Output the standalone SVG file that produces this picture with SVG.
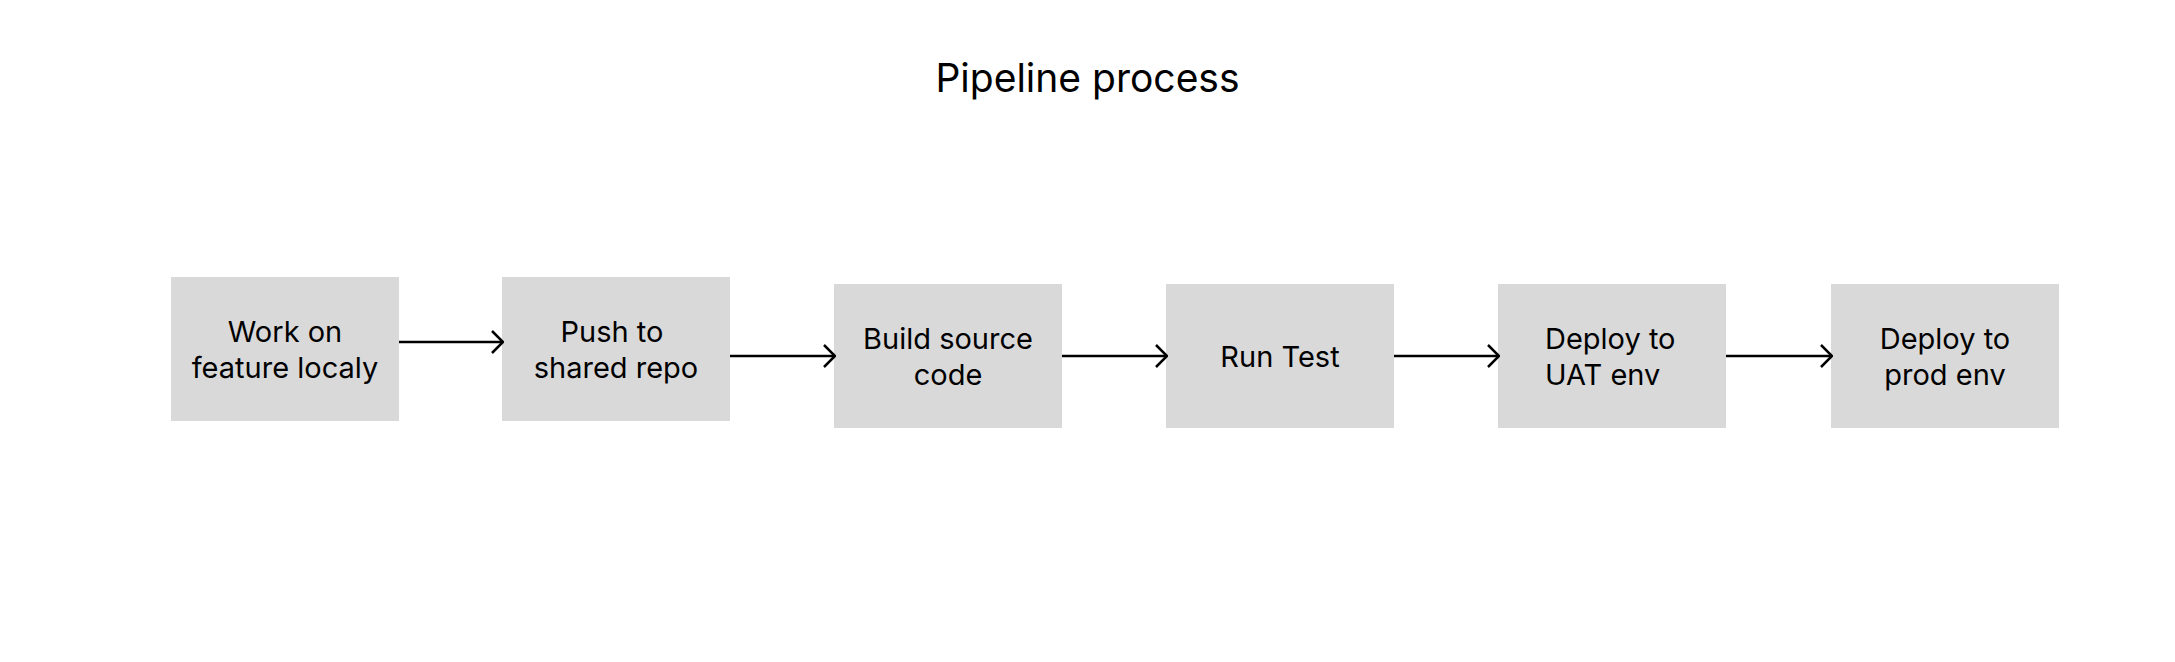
<svg xmlns="http://www.w3.org/2000/svg" width="2175" height="662" viewBox="0 0 2175 662">
<style>
.box{fill:#d9d9d9}
.t{font-family:Inter,"Noto Sans",sans-serif;font-size:29px;fill:#000;text-anchor:middle}
.l{text-anchor:start}
.title{font-family:Inter,"Noto Sans",sans-serif;font-size:39px;fill:#000;text-anchor:middle}
.c{stroke:#000;stroke-width:2.5;fill:none}
</style>
<defs>
<marker id="ah" viewBox="0 0 14 24" refX="13" refY="12" markerWidth="14" markerHeight="24" markerUnits="userSpaceOnUse" orient="auto">
<path d="M2 1 L13 12 L2 23" fill="none" stroke="#000" stroke-width="2.5"/>
</marker>
</defs>
<rect width="2175" height="662" fill="#fff"/>
<text class="title" x="1087.5" y="92">Pipeline process</text>
<g id="n1"><rect class="box" x="171" y="277" width="228" height="144"/><text class="t" x="285" y="342">Work on</text><text class="t" x="285" y="378">feature localy</text></g>
<g id="n2"><rect class="box" x="502" y="277" width="228" height="144"/><text class="t" x="612" y="342">Push to</text><text class="t" x="616" y="378">shared repo</text></g>
<g id="n3"><rect class="box" x="834" y="284" width="228" height="144"/><text class="t" x="948" y="349">Build source</text><text class="t" x="948" y="385">code</text></g>
<g id="n4"><rect class="box" x="1166" y="284" width="228" height="144"/><text class="t" x="1280" y="367">Run Test</text></g>
<g id="n5"><rect class="box" x="1498" y="284" width="228" height="144"/><text class="t l" x="1545" y="349">Deploy to</text><text class="t l" x="1545" y="385">UAT env</text></g>
<g id="n6"><rect class="box" x="1831" y="284" width="228" height="144"/><text class="t" x="1945" y="349">Deploy to</text><text class="t" x="1945" y="385">prod env</text></g>
<g id="connectors">
<line class="c" x1="399" y1="342" x2="503" y2="342" marker-end="url(#ah)"/>
<line class="c" x1="730" y1="356" x2="835" y2="356" marker-end="url(#ah)"/>
<line class="c" x1="1062" y1="356" x2="1167" y2="356" marker-end="url(#ah)"/>
<line class="c" x1="1394" y1="356" x2="1499" y2="356" marker-end="url(#ah)"/>
<line class="c" x1="1726" y1="356" x2="1832" y2="356" marker-end="url(#ah)"/>
</g>
</svg>
